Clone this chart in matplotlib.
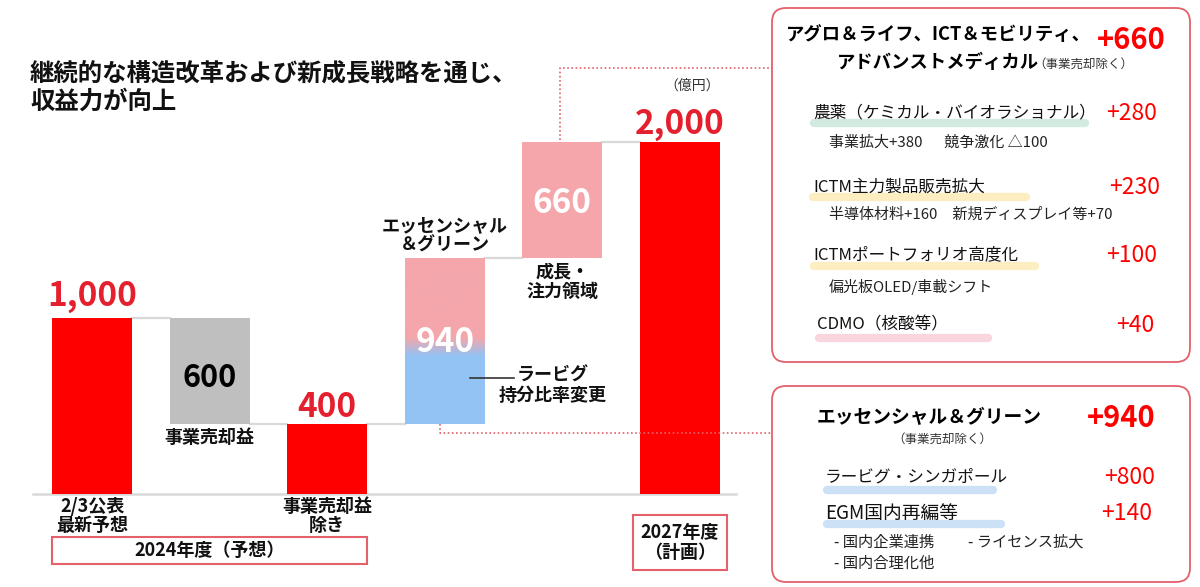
import numpy as np
import matplotlib
matplotlib.use('Agg')
import matplotlib.pyplot as plt
from matplotlib.patches import FancyBboxPatch, Rectangle

plt.rcParams['font.family'] = ['Noto Sans CJK JP', 'DejaVu Sans']

# waterfall data (億円)
steps = ['2/3公表\n最新予想', '事業売却益', '事業売却益\n除き',
         'エッセンシャル\n＆グリーン', '成長・\n注力領域', '2027年度\n（計画）']
start_value = 1000
sale_gain = -600
eg_gain = 940
growth_gain = 660
period_2024 = '2024年度（予想）'

# right panel: agro / ICT / medical
agro_title = ['アグロ＆ライフ、ICT＆モビリティ、', 'アドバンストメディカル']
agro_total = '+660'
agro_items = ['農薬（ケミカル・バイオラショナル）', 'ICTM主力製品販売拡大',
              'ICTMポートフォリオ高度化', 'CDMO（核酸等）']
agro_values = ['+280', '+230', '+100', '+40']
agro_notes = ['事業拡大+380　  競争激化 △100', '半導体材料+160　新規ディスプレイ等+70',
              '偏光板OLED/車載シフト', '']
# right panel: essential & green
eg_title = 'エッセンシャル＆グリーン'
eg_total = '+940'
eg_items = ['ラービグ・シンガポール', 'EGM国内再編等']
eg_values = ['+800', '+140']
eg_notes = ['- 国内企業連携', '- ライセンス拡大', '- 国内合理化他']

RED = '#FF0000'
TXT_RED = '#E5202E'
PINK = '#F4A6AB'
BLUE = '#93C3F4'
GRAY = '#BFBFBF'
LINE = '#D9D9D9'
BOX = '#E4606B'

fig = plt.figure(figsize=(12, 5.87), dpi=100)

# waterfall axes
ax = fig.add_axes([21.5 / 1200, 0, 729 / 1200, 1])
ax.axis('off')

# overlay in pixel coordinates for decorations / right panel
ov = fig.add_axes([0, 0, 1, 1])
ov.set_xlim(0, 1200)
ov.set_ylim(587, 0)
ov.axis('off')
ov.set_zorder(3)

level_after_sale = start_value + sale_gain
final = level_after_sale + eg_gain + growth_gain
bottoms = [0, level_after_sale, 0, level_after_sale, level_after_sale + eg_gain, 0]
heights = [start_value, -sale_gain, level_after_sale, eg_gain, growth_gain, final]
colors = [RED, GRAY, RED, 'none', PINK, RED]
x = np.arange(len(steps))
w = 0.68
bars = ax.bar(x, heights, bottom=bottoms, width=w, color=colors, edgecolor='none', zorder=2)

# gradient bar (pink -> blue)
n = 300
t = np.linspace(0, 1, n)
mix = np.clip((t - 0.41) / (0.52 - 0.41), 0, 1)
c1 = np.array(matplotlib.colors.to_rgb(BLUE))
c2 = np.array(matplotlib.colors.to_rgb(PINK))
grad = (1 - mix)[:, None] * c1 + mix[:, None] * c2
im = ax.imshow(grad[:, None, :], extent=(3 - w / 2, 3 + w / 2, bottoms[3], bottoms[3] + heights[3]),
               origin='lower', aspect='auto', zorder=2)
im.set_clip_path(bars[3])

ax.set_xlim(-0.6, 5.6)
ax.set_ylim(-528, 2807)

# connectors
tops = [b + h for b, h in zip(bottoms, heights)]
levels = [start_value, level_after_sale, level_after_sale, tops[3], final]
for i, lv in enumerate(levels):
    ax.plot([i + w / 2, i + 1 - w / 2], [lv, lv], color=LINE, lw=1.6, zorder=1)
ax.plot([-0.5, 5.48], [0, 0], color=LINE, lw=1.8, zorder=1)

# value labels
ax.text(0, start_value + 68, f'{start_value:,}', ha='center', va='baseline',
        fontsize=24, color=TXT_RED, fontweight='bold')
ax.text(1, bottoms[1] + heights[1] / 2 - 90, f'{-sale_gain}', ha='center', va='baseline',
        fontsize=22, color='black', fontweight='bold')
ax.text(2, level_after_sale + 40, f'{level_after_sale}', ha='center', va='baseline',
        fontsize=24, color=TXT_RED, fontweight='bold')
ax.text(3, bottoms[3] + heights[3] / 2 - 65, f'{eg_gain}', ha='center', va='baseline',
        fontsize=24, color='white', fontweight='bold')
ax.text(4, bottoms[4] + heights[4] / 2 - 72, f'{growth_gain}', ha='center', va='baseline',
        fontsize=24, color='white', fontweight='bold')
ax.text(5, final + 48, f'{final:,}', ha='center', va='baseline',
        fontsize=24, color=TXT_RED, fontweight='bold')

# category labels
lab = dict(ha='center', fontsize=13, fontweight='bold', color='#111111', linespacing=1.05)
ax.text(0, -15, steps[0], va='top', **lab)
ax.text(1, level_after_sale - 25, steps[1], va='top', **lab)
ax.text(2, -15, steps[2], va='top', **lab)
ax.text(3, tops[3] + 20, steps[3], va='bottom', **lab)
ax.text(4, bottoms[4] - 25, steps[4], va='top', **lab)
ax.text(5, -276, steps[5], va='center', ha='center', fontsize=13, fontweight='bold',
        color='#111111', linespacing=1.05,
        bbox=dict(boxstyle='square,pad=0.45', fc='white', ec=BOX, lw=1.5))

# 2024 box
ax.add_patch(Rectangle((-w / 2, -398), 2 + w, 154, fc='white', ec=BOX, lw=1.5, zorder=1))
ax.text(1, -321, period_2024, ha='center', va='center', fontsize=13, fontweight='bold', color='#111111')

# annotation for ラービグ
ov.plot([470, 514], [378, 378], color='#333333', lw=1.2)
ov.text(553, 385, 'ラービグ\n持分比率変更', ha='center', va='center', fontsize=13,
        fontweight='bold', color='#111111', linespacing=1.1)

# title and unit
ov.text(30, 88, '継続的な構造改革および新成長戦略を通じ、\n収益力が向上', ha='left', va='center',
        fontsize=17.6, fontweight='bold', color='#111111', linespacing=1.18)
ov.text(692, 86, '（億円）', ha='center', va='center', fontsize=10, color='#333333')

# dotted red connectors
ov.plot([560, 560, 772], [140, 68, 68], color=BOX, lw=1.2, ls=(0, (1, 1.5)), zorder=1)
ov.plot([440, 440, 772], [424, 433, 433], color=BOX, lw=1.2, ls=(0, (1, 1.5)), zorder=1)

# right boxes
ov.add_patch(FancyBboxPatch((772, 8), 418, 354, boxstyle='round,pad=0,rounding_size=14',
                            fc='white', ec=BOX, lw=1.3, zorder=3))
ov.add_patch(FancyBboxPatch((772, 386), 418, 196, boxstyle='round,pad=0,rounding_size=14',
                            fc='white', ec=BOX, lw=1.3, zorder=3))

# box 1
ov.text(786, 35, agro_title[0], ha='left', va='center', fontsize=13.2, fontweight='bold', zorder=5)
ov.text(837, 62, agro_title[1], ha='left', va='center', fontsize=13.2, fontweight='bold', zorder=5)
ov.text(1033, 64, '（事業売却除く）', ha='left', va='center', fontsize=9, color='#333333', zorder=5)
ov.text(1097, 40, agro_total, ha='left', va='center', fontsize=21, fontweight='bold', color=RED, zorder=5)

item_y = [113, 187, 255, 325]
item_x = [813, 813, 813, 817]
band_x = [(814, 1085), (813, 1026), (814, 1035), (819, 988)]
band_y = [123, 197, 266, 338]
band_c = ['#D3EAE1', '#FCEEC0', '#FCEEC0', '#F9D6DD']
val_x = [1157, 1160, 1157, 1154]
note_y = [143, 215, 287]
for i, item in enumerate(agro_items):
    ov.plot(band_x[i], [band_y[i], band_y[i]], color=band_c[i], lw=6, solid_capstyle='round', zorder=4)
    ov.text(item_x[i], item_y[i], item, ha='left', va='center', fontsize=12, color='#111111', zorder=5)
    ov.text(val_x[i], item_y[i], agro_values[i], ha='right', va='center', fontsize=16.5, color=RED, zorder=5)
    if agro_notes[i]:
        ov.text(829, note_y[i], agro_notes[i], ha='left', va='center', fontsize=10.8,
                color='#222222', zorder=5)

# box 2
ov.text(817, 418, eg_title, ha='left', va='center', fontsize=13.5, fontweight='bold', zorder=5)
ov.text(942, 439, '（事業売却除く）', ha='center', va='center', fontsize=9, color='#333333', zorder=5)
ov.text(1087, 418, eg_total, ha='left', va='center', fontsize=21, fontweight='bold', color=RED, zorder=5)
eg_y = [477, 513]
eg_band = [(827, 993), (827, 1001)]
eg_band_y = [490, 524]
eg_val_x = [1155, 1152]
eg_size = [12, 13.5]
for i, item in enumerate(eg_items):
    ov.plot(eg_band[i], [eg_band_y[i], eg_band_y[i]], color='#CCE0F6', lw=6, solid_capstyle='round', zorder=4)
    ov.text(825, eg_y[i], item, ha='left', va='center', fontsize=eg_size[i], color='#111111', zorder=5)
    ov.text(eg_val_x[i], eg_y[i], eg_values[i], ha='right', va='center', fontsize=16.5, color=RED, zorder=5)
note_pos = [(834, 542), (968, 542), (834, 563)]
for (nx, ny), note in zip(note_pos, eg_notes):
    ov.text(nx, ny, note, ha='left', va='center', fontsize=11, color='#222222', zorder=5)

fig.savefig('out.png', dpi=100)
